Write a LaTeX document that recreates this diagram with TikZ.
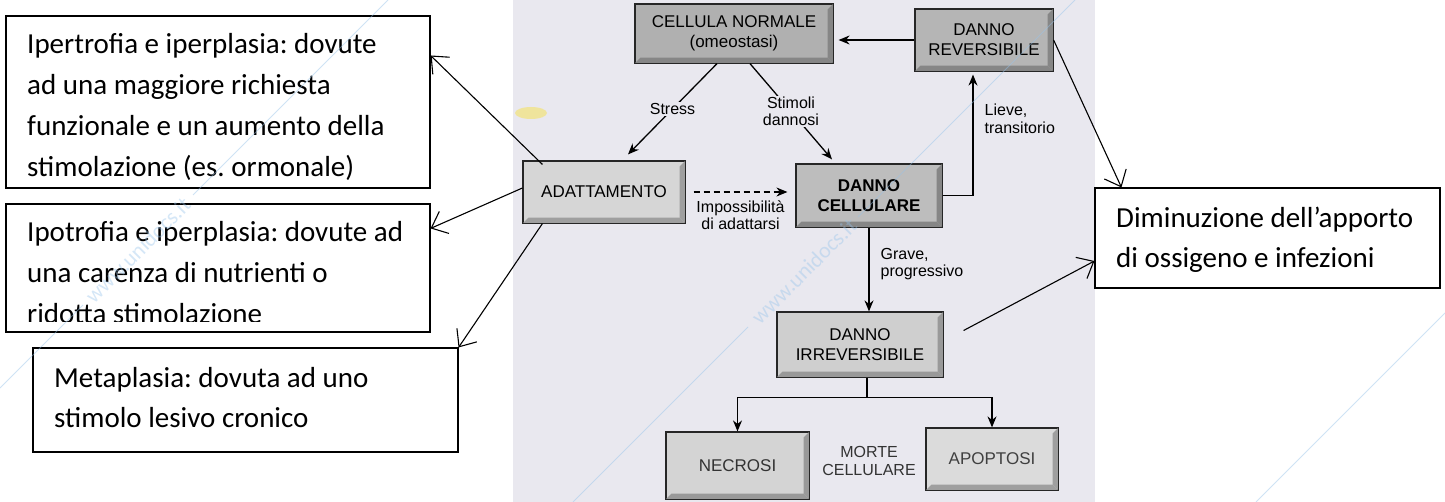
\documentclass[tikz,border=0pt]{standalone}
\usepackage{fontspec}
\setmainfont{Carlito}
\newfontfamily\scanfont{Liberation Sans}
\usetikzlibrary{arrows.meta,calc}
\definecolor{photobg}{RGB}{233,232,239}
\definecolor{wmblue}{RGB}{150,195,235}
\frenchspacing
\newcommand\bevelbox[2]{%
  \fill[#2] (#1.north east) -- (#1.south east) -- ([shift={(-6pt,6pt)}]#1.south east) -- ([shift={(-6pt,-6pt)}]#1.north east) -- cycle;
  \fill[#2] (#1.south west) -- (#1.south east) -- ([shift={(-6pt,6pt)}]#1.south east) -- ([shift={(6pt,6pt)}]#1.south west) -- cycle;
  \draw[line width=1.2pt, black!85] (#1.north west) rectangle (#1.south east);
}
\begin{document}
\begin{tikzpicture}[x=1pt,y=-1pt,
  scanbox/.style={draw=black!85, line width=1.2pt, inner sep=0pt, align=center,
    font=\scanfont\fontsize{17}{20}\selectfont},
  note/.style={draw=black, line width=1.1pt, fill=white, inner sep=0pt},
  notetext/.style={anchor=base west, inner sep=0pt, font=\fontsize{29}{41}\selectfont},
  flow/.style={line width=1.3pt, -{Stealth[length=11pt,width=9pt]}},
  lbl/.style={font=\scanfont\fontsize{16}{17.5}\selectfont, align=left, inner sep=1pt},
  pointer/.style={line width=1.1pt, -{Straight Barb[length=14pt,width=24pt]}},
  wm/.style={draw=wmblue, line width=0.9pt, opacity=0.45},
  wmtext/.style={text=wmblue, opacity=0.4, inner sep=0pt, font=\fontsize{22}{22}\selectfont},
]
\useasboundingbox (0,0) rectangle (1445,502);
\fill[white] (0,0) rectangle (1445,502);

% scanned diagram background
\fill[photobg] (513,0) rectangle (1095,502);
\fill[yellow!80!orange, opacity=0.35] (531,113) ellipse [x radius=16pt, y radius=6pt];

% boxes of the scanned diagram
\node[scanbox, fill=gray!62, minimum width=198pt, minimum height=59pt] (cn) at (734,33.5) {CELLULA NORMALE\\(omeostasi)};
\node[scanbox, fill=gray!58, minimum width=138pt, minimum height=62pt] (dr) at (984,40) {DANNO\\REVERSIBILE};
\node[scanbox, fill=gray!32, minimum width=162pt, minimum height=62pt] (ad) at (604,192) {ADATTAMENTO};
\node[scanbox, fill=gray!52, minimum width=146pt, minimum height=63pt, font=\scanfont\bfseries\fontsize{17}{20}\selectfont] (dc) at (869,195.5) {DANNO\\CELLULARE};
\node[scanbox, fill=gray!38, minimum width=166pt, minimum height=65pt] (di) at (860,344.5) {DANNO\\IRREVERSIBILE};
\node[scanbox, fill=gray!34, minimum width=143pt, minimum height=67pt, text=black!80] (ne) at (737.5,465.5) {NECROSI};
\node[scanbox, fill=gray!28, minimum width=132pt, minimum height=62pt, text=black!75] (ap) at (992,459) {APOPTOSI};
\foreach \n/\c in {cn/gray!95, dr/gray!95, ad/gray!75, dc/gray!95, di/gray!80, ne/gray!80, ap/gray!75}{\bevelbox{\n}{\c}}

\node[lbl, align=center, text=black!80] (mc) at (869,461) {MORTE\\CELLULARE};

% connectors of the scanned diagram
\draw[flow, shorten >=5pt] (dr.west) -- (dr.west -| cn.east);
\draw[flow] ([xshift=-17pt]cn.south) -- node[lbl, fill=photobg] {Stress} ([xshift=24pt,yshift=6pt]ad.north);
\draw[flow] ([xshift=16pt]cn.south) -- node[lbl, fill=photobg, align=center] {Stimoli\\dannosi} ([xshift=-37pt,yshift=4pt]dc.north);
\draw[flow, line width=1.1pt, dash pattern=on 6pt off 4pt, shorten <=8pt, shorten >=8pt] (ad.east) -- node[lbl, below=7pt, align=center] {Impossibilità\\di adattarsi} (ad.east -| dc.west);
\draw[flow, shorten >=3pt] (dc.east) -| node[lbl, pos=0.81, right=10pt] {Lieve,\\transitorio} ([xshift=-11pt]dr.south);
\draw[flow] (dc.south) -- node[lbl, pos=0.435, right=10pt] {Grave,\\progressivo} (dc.south |- di.north);
\coordinate (split) at ($(di.south)+(7pt,-20pt)$);
\draw[line width=1.3pt] ([xshift=7pt]di.south) -- (split);
\draw[flow] (split) -| (ne.north);
\draw[flow] (split) -| (ap.north);

% annotation boxes
\node[note, minimum width=424pt, minimum height=172pt] (aA) at (218,102) {};
\node[note, minimum width=424pt, minimum height=128pt] (aB) at (218,268) {};
\node[note, minimum width=425pt, minimum height=104pt] (aC) at (245.5,400) {};
\node[note, minimum width=345pt, minimum height=100pt] (aD) at (1267.5,238) {};

\begin{scope}
  \clip (6,16) rectangle (430,180);
  \node[notetext] (tA1) at (27,54) {Ipertrofia e iperplasia: dovute};
  \node[notetext] (tA2) at (27,95) {ad una maggiore richiesta};
  \node[notetext] (tA3) at (27,136) {funzionale e un aumento della};
  \node[notetext] (tA4) at (27,177) {stimolazione (es. ormonale)};
\end{scope}
\begin{scope}
  \clip (6,204) rectangle (430,322);
  \node[notetext] (tB1) at (27,242) {Ipotrofia e iperplasia: dovute ad};
  \node[notetext] (tB2) at (27,283) {una carenza di nutrienti o};
  \node[notetext] (tB3) at (27,324) {ridotta stimolazione};
\end{scope}
\node[notetext] (tC1) at (54,387) {Metaplasia: dovuta ad uno};
\node[notetext] (tC2) at (54,427) {stimolo lesivo cronico};
\node[notetext] (tD1) at (1116,228) {Diminuzione dell’apporto};
\node[notetext] (tD2) at (1116,268) {di ossigeno e infezioni};

% annotation pointers
\draw[pointer] ([xshift=20pt,yshift=-4pt]ad.north west) -- ([yshift=-40pt]aA.north east);
\draw[pointer] ([yshift=4pt]ad.west) -- ([yshift=-25pt]aB.north east);
\draw[pointer] ([xshift=20pt]ad.south west) -- (aC.north east);
\draw[pointer] (dr.east) -- ([xshift=27pt]aD.north west);
\draw[pointer] ([xshift=20pt,yshift=14pt]di.east) -- ([yshift=-23pt]aD.west);

% watermark
\draw[wm] (0,388) -- (83,305);
\draw[wm] (193,195) -- (388,0);
\path (0,388) -- node[wmtext, sloped, pos=0.355] (wm1) {www.unidocs.it} (388,0);
\draw[wm] (573,502) -- (748,327);
\draw[wm] (858,217) -- (1075,0);
\path (573,502) -- node[wmtext, sloped, pos=0.46] (wm2) {www.unidocs.it} (1075,0);
\draw[wm] (1256,502) -- (1445,313);
\end{tikzpicture}
\end{document}
